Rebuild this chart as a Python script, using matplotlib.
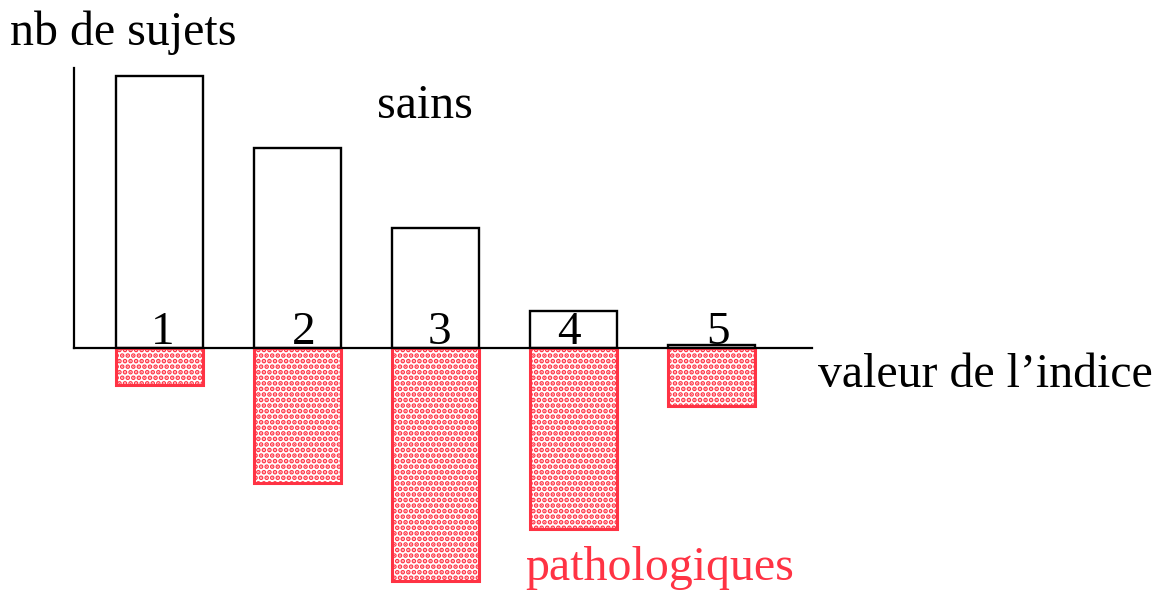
import matplotlib.pyplot as plt
import numpy as np

plt.rcParams["font.family"] = ["Liberation Serif", "DejaVu Serif"]
plt.rcParams["hatch.linewidth"] = 2.4

# values (arbitrary units, no scale shown)
indices = [1, 2, 3, 4, 5]
sains = [27.2, 20.0, 12.0, 3.7, 0.3]
pathologiques = [3.7, 13.5, 23.3, 18.1, 5.8]
index_labels = ["1", "2", "3", "4", "5"]

red = "#ff3344"

fig = plt.figure(figsize=(11.66, 5.94), dpi=100)
ax = fig.add_axes([0, 0, 1, 1])
ax.set_xlim(-0.1558, 8.293)
ax.set_ylim(-24.6, 34.8)
ax.axis("off")

w = 0.63
ax.bar(indices, sains, width=w, bottom=0, facecolor="white",
       edgecolor="black", linewidth=1.7, zorder=2)
ax.bar(indices, [-v for v in pathologiques], width=w, bottom=0,
       facecolor="white", edgecolor=red, hatch="...", linewidth=2.2, zorder=2)

# hand drawn axes
ax.plot([0.3804, 0.3804], [0, 28.0], color="black", lw=1.6, zorder=3)
ax.plot([0.3804, 5.728], [0, 0], color="black", lw=1.6, zorder=3)

# the digits are not quite centred on the bars in the original
nudge = [0.025, 0.047, 0.025, -0.033, 0.047]
for i, lab, dx in zip(indices, index_labels, nudge):
    ax.text(i + dx, -0.6, lab, ha="center", va="bottom", fontsize=34, zorder=4)

ax.text(-0.083, 31.5, "nb de sujets", ha="left", va="center", fontsize=34.5)
ax.text(5.770, -2.7, "valeur de l\u2019indice", ha="left", va="center", fontsize=34.5)
ax.text(2.576, 24.2, "sains", ha="left", va="center", fontsize=34.5)
ax.text(3.648, -22.0, "pathologiques", ha="left", va="center", fontsize=34.5, color=red)

plt.savefig("out.png", dpi=100)
